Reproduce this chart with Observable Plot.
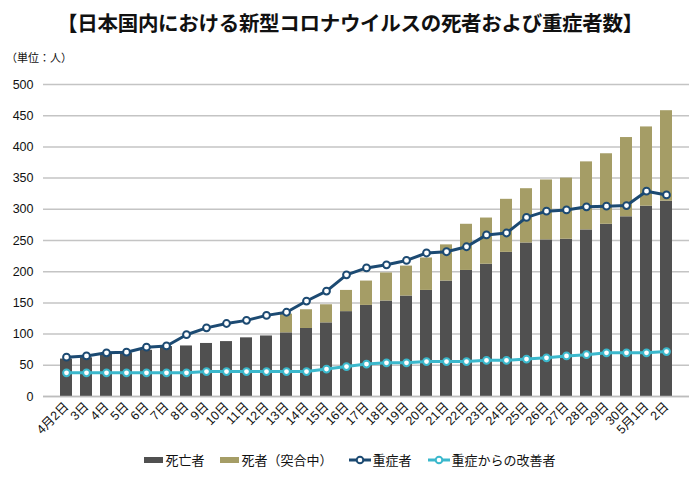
<!DOCTYPE html>
<html>
<head>
<meta charset="utf-8">
<script src="https://cdn.jsdelivr.net/npm/d3@7"></script>
<script src="https://cdn.jsdelivr.net/npm/@observablehq/plot@0.6"></script>
<style>
  body { margin:0; background:#fff; font-family:"Liberation Sans","Noto Sans CJK JP",sans-serif; color:#111; }
  #wrap { width:700px; height:480px; position:relative; }
  #title { position:absolute; top:7px; left:0; width:700px; text-align:center; font-size:20.5px; font-weight:bold; font-family:"Noto Sans CJK JP",sans-serif; letter-spacing:-0.3px; }
  #unit { position:absolute; top:49px; left:6px; font-size:11px; font-family:"Noto Sans CJK JP",sans-serif; }
  #chart { position:absolute; top:66px; left:0; }
  #legend { position:absolute; top:450px; left:0; width:700px; display:flex; justify-content:center; gap:16px; font-size:13px; font-family:"Noto Sans CJK JP",sans-serif; align-items:center; }
  #legend .it { display:flex; align-items:center; gap:2px; }
</style>
</head>
<body>
<div id="wrap">
  <div id="title">【日本国内における新型コロナウイルスの死者および重症者数】</div>
  <div id="unit">（単位：人）</div>
  <div id="chart"></div>
  <div id="legend"></div>
</div>
<script>
const dates = ["4月2日","3日","4日","5日","6日","7日","8日","9日","10日","11日","12日","13日","14日","15日","16日","17日","18日","19日","20日","21日","22日","23日","24日","25日","26日","27日","28日","29日","30日","5月1日","2日"];
const deaths = [60,62,68,70,74,80,81,85,88,94,97,102,109,118,136,146,153,161,170,185,202,212,231,246,251,252,267,276,288,305,313];
const pending = [0,0,0,0,0,0,0,0,0,0,0,30,30,29,34,39,45,48,52,58,74,74,85,87,96,98,109,113,127,127,145];
const severe = [63,65,70,71,79,81,99,110,117,122,130,135,153,169,195,206,211,218,230,232,240,259,262,287,297,299,304,305,306,329,323];
const recovered = [38,38,38,38,38,38,38,40,40,40,40,40,40,44,48,52,54,54,56,56,56,58,58,60,62,65,67,70,70,70,72];
const yTicks = [0,50,100,150,200,250,300,350,400,450,500];
const seriesNames = ["死亡者","死者（突合中）","重症者","重症からの改善者"];
const colors = ["#505050","#a59d66","#1c4a72","#3bb8cc"];

const barData = [];
dates.forEach((d,i) => {
  barData.push({date:d, type:seriesNames[0], value:deaths[i]});
  barData.push({date:d, type:seriesNames[1], value:pending[i]});
});
const severeData = dates.map((d,i)=>({date:d, value:severe[i]}));
const recData = dates.map((d,i)=>({date:d, value:recovered[i]}));

const chart = Plot.plot({
  width:700, height:379,
  marginLeft:43, marginRight:11, marginTop:18, marginBottom:49,
  style:{fontFamily:"'Liberation Sans','Noto Sans CJK JP',sans-serif", fontSize:"12px", color:"#111"},
  x:{type:"band", domain:dates, paddingInner:0.42, paddingOuter:0.2},
  y:{domain:[0,500]},
  color:{domain:seriesNames.slice(0,2), range:colors.slice(0,2)},
  marks:[
    Plot.gridY(yTicks, {stroke:"#c4c4c4", strokeOpacity:1, strokeWidth:1.5}),
    Plot.axisY(yTicks, {tickSize:0, tickPadding:10, label:null, fontSize:12.5}),
    Plot.axisX({tickSize:0, tickRotate:-45, tickPadding:8, label:null, fontSize:12.5}),
    Plot.barY(barData, {x:"date", y:"value", fill:"type"}),
    Plot.ruleY([0], {stroke:"#bdbdbd", strokeWidth:1.5}),
    Plot.lineY(severeData, {x:"date", y:"value", stroke:colors[2], strokeWidth:3}),
    Plot.dot(severeData, {x:"date", y:"value", r:3.4, fill:"#fff", stroke:colors[2], strokeWidth:2}),
    Plot.lineY(recData, {x:"date", y:"value", stroke:colors[3], strokeWidth:3}),
    Plot.dot(recData, {x:"date", y:"value", r:3.4, fill:"#fff", stroke:colors[3], strokeWidth:2})
  ]
});
document.getElementById("chart").appendChild(chart);

const legend = document.getElementById("legend");
seriesNames.forEach((name,i) => {
  const it = document.createElement("div");
  it.className = "it";
  let sw;
  if (i < 2) {
    sw = `<svg width="19" height="8"><rect x="0" y="1" width="19" height="6" fill="${colors[i]}"/></svg>`;
  } else {
    sw = `<svg width="22" height="10"><line x1="0" y1="5" x2="22" y2="5" stroke="${colors[i]}" stroke-width="3"/><circle cx="11" cy="5" r="3.3" fill="#fff" stroke="${colors[i]}" stroke-width="2"/></svg>`;
  }
  it.innerHTML = sw + `<span>${name}</span>`;
  legend.appendChild(it);
});
</script>
</body>
</html>
